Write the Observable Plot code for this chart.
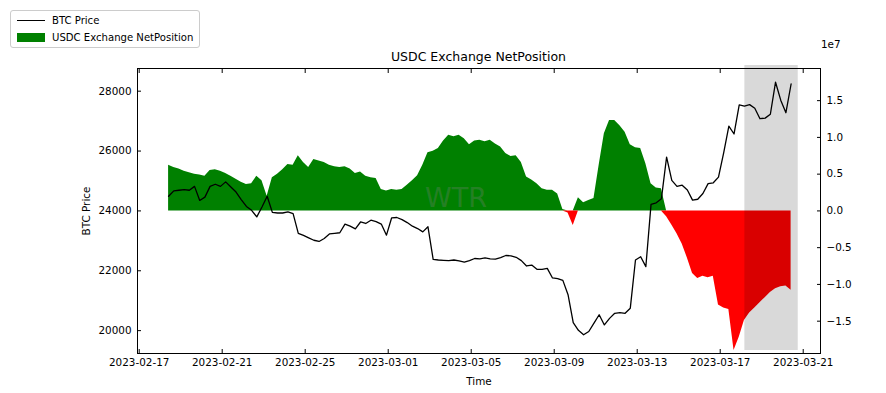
<!DOCTYPE html>
<html>
<head>
<meta charset="utf-8">
<script src="https://cdn.jsdelivr.net/npm/d3@7"></script>
<script src="https://cdn.jsdelivr.net/npm/@observablehq/plot@0.6"></script>
<style>
  body { margin: 0; background: #fff; font-family: "DejaVu Sans", sans-serif; }
  #wrap { position: relative; width: 886px; height: 393px; }
  #wrap svg { position: absolute; left: 0; top: 0; }
  #title { position: absolute; left: 137px; width: 683px; top: 49px; text-align: center; font-size: 12.5px; line-height: 15px; color: #000; }
  #offset { position: absolute; left: 821px; top: 38px; font-size: 10.4px; line-height: 13px; color: #000; }
  #legend { position: absolute; left: 10px; top: 10px; width: 188px; height: 36px; border: 1px solid #cccccc; border-radius: 3px; background: rgba(255,255,255,0.85); font-size: 10.1px; color: #000; }
  .item { position: absolute; left: 6px; height: 13px; line-height: 13px; white-space: nowrap; }
  .sw { display: inline-block; width: 28px; vertical-align: middle; margin-right: 7px; }
</style>
</head>
<body>
<div id="wrap">
  <div id="chart"></div>
  <div id="title"></div>
  <div id="offset"></div>
  <div id="legend"></div>
</div>
<script>
// ---- data ----
const titleText = "USDC Exchange NetPosition";
const offsetText = "1e7";
const seriesNames = ["BTC Price", "USDC Exchange NetPosition"];
const startTime = "2023-02-18T10:00Z";   // first sample
const stepHours = 6;                     // sampling interval

// BTC price (USD), one value every 6 hours
const btcPrice = [
  24490, 24670, 24690, 24710, 24690, 24820, 24350, 24460, 24820, 24890,
  24820, 24970, 24800, 24630, 24380, 24150, 24020, 23800, 24130, 24490,
  23950, 23930, 23930, 23970, 23910, 23250, 23180, 23100, 23020, 22980,
  23080, 23230, 23250, 23270, 23560, 23490, 23400, 23630, 23580, 23690,
  23640, 23560, 23190, 23770, 23780, 23710, 23610, 23490, 23410, 23300,
  23470, 22380, 22360, 22350, 22340, 22360, 22330, 22290, 22340, 22410,
  22400, 22430, 22400, 22390, 22440, 22510, 22500, 22450, 22340, 22160,
  22190, 22050, 22050, 22080, 21760, 21740, 21680, 21200, 20270, 20010,
  19860, 19970, 20250, 20530, 20190, 20410, 20580, 20600, 20580, 20750,
  22360, 22470, 22140, 24220, 24270, 24410, 25800, 25020, 24820, 24860,
  24700, 24360, 24390, 24580, 24910, 24940, 25130, 25940, 26830, 26570,
  27540, 27500, 27550, 27430, 27080, 27100, 27230, 28300, 27700, 27280,
  28240
];

// USDC exchange net position, in units of 1e7
const netPosition = [
  0.62, 0.59, 0.57, 0.54, 0.52, 0.50, 0.49, 0.47, 0.55, 0.56,
  0.54, 0.51, 0.47, 0.43, 0.39, 0.36, 0.37, 0.47, 0.41, 0.20,
  0.45, 0.50, 0.56, 0.63, 0.62, 0.75, 0.66, 0.59, 0.70, 0.68,
  0.66, 0.62, 0.60, 0.59, 0.60, 0.57, 0.51, 0.53, 0.47, 0.45,
  0.44, 0.29, 0.27, 0.29, 0.28, 0.29, 0.35, 0.41, 0.48, 0.62,
  0.79, 0.81, 0.85, 0.95, 1.03, 1.01, 1.03, 0.98, 0.90, 0.95,
  0.96, 0.94, 0.96, 0.91, 0.87, 0.78, 0.74, 0.75, 0.66, 0.46,
  0.42, 0.37, 0.30, 0.28, 0.28, 0.23, 0.02, -0.03, -0.20, 0.18,
  0.11, 0.14, 0.17, 0.62, 1.05, 1.23, 1.23, 1.16, 1.07, 0.90,
  0.86, 0.85, 0.64, 0.37, 0.31, 0.30, -0.08, -0.19, -0.31, -0.45,
  -0.64, -0.85, -0.92, -0.89, -0.91, -0.89, -1.28, -1.32, -1.34, -1.90,
  -1.72, -1.49, -1.39, -1.32, -1.25, -1.18, -1.11, -1.06, -1.03, -1.02,
  -1.08
];

const xTickLabels = ["2023-02-17", "2023-02-21", "2023-02-25", "2023-03-01", "2023-03-05", "2023-03-09", "2023-03-13", "2023-03-17", "2023-03-21"];
const priceTicks = [20000, 22000, 24000, 26000, 28000];
const netTicks = [-1.5, -1.0, -0.5, 0.0, 0.5, 1.0, 1.5];
const shadedSpan = [{start: "2023-03-18T04:30Z", end: "2023-03-20T18:15Z"}];
const watermark = ["WTR"];

// ---- derived ----
const t0 = new Date(startTime).getTime();
const rows = btcPrice.map((p, i) => ({
  time: new Date(t0 + i * stepHours * 3600e3),
  price: p,
  net: netPosition[i]
}));
const zeroPrice = 24000;        // right-axis 0 lines up with 24000
const pricePerNet = 2456;       // price units per 1e7 of net position
const toPrice = v => zeroPrice + v * pricePerNet;
const xTicks = xTickLabels.map(s => new Date(s + "T00:00Z"));
const fmtDate = d3.utcFormat("%Y-%m-%d");
const minus = s => s.replace("-", "\u2212");

const chart = Plot.plot({
  width: 886,
  height: 393,
  marginLeft: 137,
  marginRight: 66,
  marginTop: 68,
  marginBottom: 40,
  style: {fontFamily: "DejaVu Sans, sans-serif", fontSize: "10.4px", color: "#000", background: "transparent", overflow: "visible"},
  x: {type: "utc", domain: [new Date("2023-02-16T22:02Z"), new Date("2023-03-21T20:00Z")]},
  y: {domain: [19236, 28758]},
  marks: [
    Plot.areaY(rows, {x: "time", y1: () => zeroPrice, y2: d => toPrice(Math.max(d.net, 0)), fill: "green", curve: "linear"}),
    Plot.areaY(rows, {x: "time", y1: () => zeroPrice, y2: d => toPrice(Math.min(d.net, 0)), fill: "red", curve: "linear"}),
    Plot.text(watermark, {text: d => d, frameAnchor: "middle", dx: -23, dy: -13, fontSize: 27, fill: "gray", fillOpacity: 0.3}),
    Plot.lineY(rows, {x: "time", y: "price", stroke: "black", strokeWidth: 1.3}),
    Plot.rect(shadedSpan, {x1: d => new Date(d.start), x2: d => new Date(d.end), fill: "black", fillOpacity: 0.15, insetTop: -3, insetBottom: 3}),
    Plot.frame({stroke: "black", strokeWidth: 1}),
    Plot.axisX(xTicks, {anchor: "bottom", tickSize: -4, tickPadding: 9, tickFormat: fmtDate, label: "Time", labelAnchor: "center", labelArrow: "none", labelOffset: 31}),
    Plot.axisX(xTicks, {anchor: "top", tickSize: -4, tickFormat: () => "", label: null}),
    Plot.axisY(priceTicks, {anchor: "left", tickSize: -4, tickPadding: 10, tickFormat: d => String(d), label: "BTC Price", labelAnchor: "center", labelArrow: "none", labelOffset: 55}),
    Plot.axisY(netTicks, {anchor: "right", y: toPrice, tickSize: -4, tickPadding: 10, tickFormat: d => minus(d.toFixed(1)), label: null})
  ]
});
document.getElementById("chart").appendChild(chart);
document.getElementById("title").textContent = titleText;
document.getElementById("offset").textContent = offsetText;

const legend = document.getElementById("legend");
const swatches = [
  '<span class="sw" style="height:0;border-top:1.5px solid #000;"></span>',
  '<span class="sw" style="height:9px;background:green;"></span>'
];
seriesNames.forEach((name, i) => {
  const div = document.createElement("div");
  div.className = "item";
  div.style.top = (i === 0 ? 2 : 19) + "px";
  div.innerHTML = swatches[i] + '<span style="vertical-align:middle">' + name + '</span>';
  legend.appendChild(div);
});
</script>
</body>
</html>
